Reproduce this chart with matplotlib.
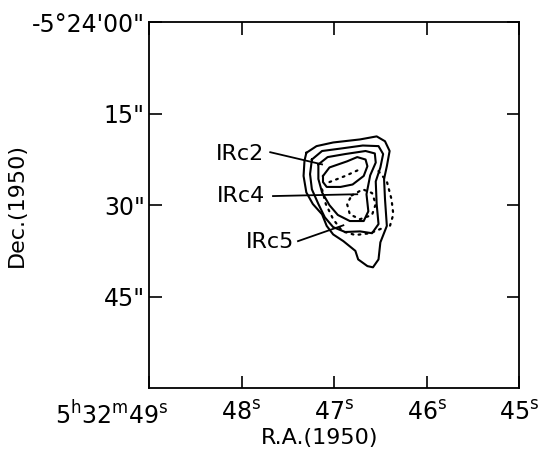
import matplotlib
matplotlib.use('Agg')
import matplotlib.pyplot as plt
import matplotlib.transforms as mtransforms

# RA in seconds of 5h32m, Dec as arcsec offset south of -5d24'00"
xticks = [49, 48, 47, 46, 45]
xticklabels = [r'$5^{\rm h}32^{\rm m}49^{\rm s}$', r'$48^{\rm s}$', r'$47^{\rm s}$',
               r'$46^{\rm s}$', r'$45^{\rm s}$']
yticks = [0, 15, 30, 45]
yticklabels = ['-5°24\'00"', '15"', '30"', '45"']

# solid contours
c1_ra = [47.30, 47.19, 47.01, 46.72, 46.54, 46.45, 46.40, 46.43, 46.46, 46.45, 46.43, 46.50,
         46.52, 46.58, 46.64, 46.74, 46.77, 46.90, 47.01, 47.08, 47.13, 47.23, 47.30, 47.33, 47.32]
c1_dec = [21.4, 20.3, 19.7, 19.2, 18.7, 19.5, 21.1, 23.6, 25.7, 29.0, 33.4, 36.1,
          38.9, 40.2, 40.0, 38.9, 37.5, 35.9, 34.8, 33.4, 31.5, 29.8, 27.9, 25.2, 22.7]
c2_ra = [47.24, 47.13, 46.93, 46.69, 46.52, 46.47, 46.50, 46.55, 46.54, 46.52, 46.59, 46.72,
         46.88, 47.01, 47.10, 47.17, 47.24, 47.26]
c2_dec = [22.5, 21.1, 20.7, 20.2, 20.3, 21.6, 23.8, 26.1, 29.8, 33.1, 34.6, 34.3,
          34.4, 33.6, 32.0, 29.8, 27.4, 24.9]
c3_ra = [47.17, 47.07, 46.88, 46.66, 46.56, 46.55, 46.61, 46.65, 46.63, 46.68, 46.83, 46.96,
         47.05, 47.13, 47.17]
c3_dec = [23.3, 22.1, 21.6, 21.1, 21.5, 23.0, 25.1, 28.2, 31.0, 32.6, 32.6, 31.6,
          30.0, 27.9, 25.7]
c4_ra = [47.12, 47.05, 46.86, 46.75, 46.66, 46.64, 46.68, 46.80, 46.93, 47.08, 47.12]
c4_dec = [25.2, 23.8, 22.8, 22.1, 22.5, 23.6, 25.2, 26.6, 27.0, 27.0, 26.2]

# dotted contours
d1_ra = [47.05, 46.88, 46.72]
d1_dec = [26.2, 25.2, 24.1]
d2_ra = [47.13, 47.09, 47.01, 46.91, 46.77, 46.61, 46.45]
d2_dec = [27.4, 29.8, 32.3, 34.3, 34.9, 34.6, 33.6]
d3_ra = [46.52, 46.43, 46.38, 46.36, 46.40]
d3_dec = [24.4, 26.1, 29.0, 31.5, 33.6]
d4_ra = [46.81, 46.69, 46.59, 46.55, 46.59, 46.72, 46.83, 46.86, 46.81]
d4_dec = [28.4, 27.4, 28.0, 29.8, 31.6, 32.3, 31.5, 29.8, 28.4]

# source labels: name, text position, leader line
src_names = ['IRc2', 'IRc4', 'IRc5']
src_text_ra = [48.02, 48.01, 47.69]
src_text_dec = [21.6, 28.5, 36.1]
src_start_ra = [47.69, 47.66, 47.39]
src_start_dec = [21.3, 28.5, 35.9]
src_end_ra = [47.13, 46.75, 46.90]
src_end_dec = [23.3, 28.2, 33.3]

fig = plt.figure(figsize=(5.38, 4.5), dpi=100)
ax = fig.add_axes([0.277, 0.138, 0.688, 0.812])

for ra, dec in [(c1_ra, c1_dec), (c2_ra, c2_dec), (c3_ra, c3_dec), (c4_ra, c4_dec)]:
    ax.plot(list(ra) + [ra[0]], list(dec) + [dec[0]], color='black', lw=1.5,
            solid_joinstyle='round')

for ra, dec in [(d1_ra, d1_dec), (d2_ra, d2_dec), (d3_ra, d3_dec), (d4_ra, d4_dec)]:
    ax.plot(ra, dec, color='black', lw=1.6, linestyle=(0, (0.8, 2.4)), dash_capstyle='round')

for i, name in enumerate(src_names):
    ax.text(src_text_ra[i], src_text_dec[i], name, ha='center', va='center', fontsize=16)
    ax.plot([src_start_ra[i], src_end_ra[i]], [src_start_dec[i], src_end_dec[i]],
            color='black', lw=1.3)

ax.set_xlim(49, 45)
ax.set_ylim(60, 0)
ax.set_xticks(xticks)
ax.set_xticklabels(xticklabels, fontsize=17)
ax.set_yticks(yticks)
ax.set_yticklabels(yticklabels, fontsize=17)
ax.tick_params(direction='in', length=9, width=1.2, top=True, right=True)
ax.tick_params(axis='x', pad=9)
ax.tick_params(axis='y', pad=3)

# first RA label: keep "49s" under its tick
first = ax.get_xticklabels()[0]
first.set_ha('right')
first.set_transform(first.get_transform() +
                    mtransforms.ScaledTranslation(0.2, 0, fig.dpi_scale_trans))

for s in ax.spines.values():
    s.set_linewidth(1.3)
ax.set_xlabel('R.A.(1950)', fontsize=16)
ax.set_ylabel('Dec.(1950)', fontsize=16)
ax.xaxis.set_label_coords(0.462, -0.11)
ax.yaxis.set_label_coords(-0.33, 0.5)

fig.savefig('out.png', dpi=100)
